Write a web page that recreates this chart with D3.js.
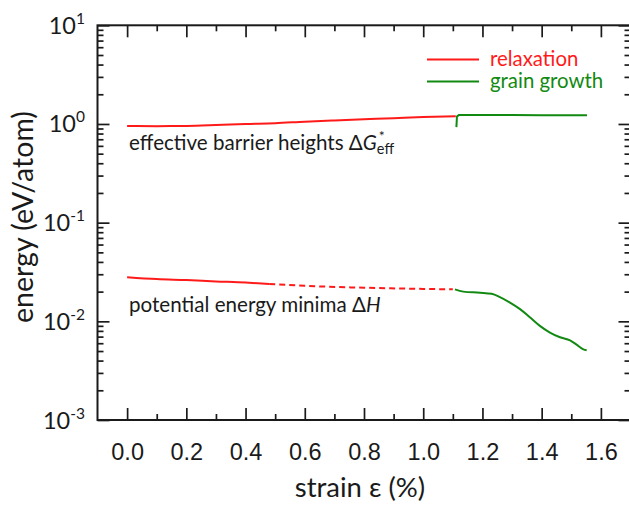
<!DOCTYPE html>
<html>
<head>
<meta charset="utf-8">
<script src="https://cdn.jsdelivr.net/npm/d3@7"></script>
<style>
  body { margin: 0; background: #fff; }
  svg { display: block; font-family: Lato, "Open Sans", sans-serif; }
  .tickLabel { font-size: 23.5px; fill: #1a1a1a; }
  .axisTitle { font-size: 27.5px; fill: #1a1a1a; }
  .note { font-size: 20.6px; fill: #1a1a1a; }
  .keyText { font-size: 20.4px; }
</style>
</head>
<body>
<div id="graphicContainer"></div>
<script>
// strain (%) , energy (eV/atom)
var barrierRelax = [[0.0, 0.955], [0.1, 0.95], [0.2, 0.955], [0.3, 0.975], [0.4, 1.0], [0.5, 1.02],
  [0.6, 1.055], [0.7, 1.085], [0.8, 1.115], [0.9, 1.145], [1.0, 1.175], [1.11, 1.2]]
var barrierGrowth = [[1.112, 0.93], [1.114, 1.19], [1.12, 1.23], [1.2, 1.235], [1.3, 1.23],
  [1.4, 1.225], [1.5, 1.225], [1.553, 1.225]]
var minimaRelax = [[0.0, 0.028], [0.1, 0.0268], [0.2, 0.0262], [0.3, 0.0254], [0.4, 0.0247], [0.48, 0.0239]]
var minimaRelaxDashed = [[0.48, 0.0239], [0.6, 0.0229], [0.8, 0.0219], [1.0, 0.0213], [1.1, 0.0211]]
var minimaGrowth = [[1.107, 0.0211], [1.135, 0.0200], [1.192, 0.0195], [1.231, 0.0190], [1.259, 0.0176],
  [1.293, 0.0155], [1.327, 0.0133], [1.36, 0.0110], [1.394, 0.0090], [1.428, 0.0077], [1.462, 0.0069],
  [1.496, 0.0064], [1.518, 0.0058], [1.541, 0.0052], [1.552, 0.0051]]

var xMajor = [0.0, 0.2, 0.4, 0.6, 0.8, 1.0, 1.2, 1.4, 1.6]
var xMinor = [0.1, 0.3, 0.5, 0.7, 0.9, 1.1, 1.3, 1.5]
var yDecades = [1e-3, 1e-2, 1e-1, 1e0, 1e1]
var yExponents = ["-3", "-2", "-1", "0", "1"]

var legendKeys = ["relaxation", "grain growth"]
var red = "#ff1a1a"
var green = "#128a12"

var width = 629, height = 507
var plot = { left: 97.5, right: 630.5, top: 25.3, bottom: 420 }

var svg = d3.select("#graphicContainer").append("svg")
  .attr("width", width)
  .attr("height", height)

var x = d3.scaleLinear().domain([-0.1, 1.7]).range([plot.left, plot.right])
var y = d3.scaleLog().domain([1e-3, 1e1]).range([plot.bottom, plot.top])

var yMinor = []
yDecades.slice(0, -1).forEach(function (d) {
  for (var k = 2; k < 10; k++) yMinor.push(d * k)
})

function styleAxis(g) {
  g.select(".domain").remove()
  g.selectAll(".tick line").attr("stroke", "#1a1a1a").attr("stroke-width", 1.7)
}

// bottom
svg.append("g").attr("transform", "translate(0," + plot.bottom + ")")
  .call(d3.axisBottom(x).tickValues(xMajor).tickSize(-12).tickPadding(23).tickFormat(d3.format(".1f")))
  .call(styleAxis)
  .call(g => g.selectAll("text").attr("class", "tickLabel").attr("font-size", null).attr("font-family", null))
svg.append("g").attr("transform", "translate(0," + plot.bottom + ")")
  .call(d3.axisBottom(x).tickValues(xMinor).tickSize(-6).tickFormat(""))
  .call(styleAxis)
// top
svg.append("g").attr("transform", "translate(0," + plot.top + ")")
  .call(d3.axisTop(x).tickValues(xMajor).tickSize(-12).tickFormat(""))
  .call(styleAxis)
svg.append("g").attr("transform", "translate(0," + plot.top + ")")
  .call(d3.axisTop(x).tickValues(xMinor).tickSize(-6).tickFormat(""))
  .call(styleAxis)
// left
svg.append("g").attr("transform", "translate(" + plot.left + ",0)")
  .call(d3.axisLeft(y).tickValues(yDecades).tickSize(-12).tickFormat(""))
  .call(styleAxis)
svg.append("g").attr("transform", "translate(" + plot.left + ",0)")
  .call(d3.axisLeft(y).tickValues(yMinor).tickSize(-6).tickFormat(""))
  .call(styleAxis)
// right
svg.append("g").attr("transform", "translate(" + plot.right + ",0)")
  .call(d3.axisRight(y).tickValues(yDecades).tickSize(-12).tickFormat(""))
  .call(styleAxis)
svg.append("g").attr("transform", "translate(" + plot.right + ",0)")
  .call(d3.axisRight(y).tickValues(yMinor).tickSize(-6).tickFormat(""))
  .call(styleAxis)

svg.append("rect")
  .attr("x", plot.left).attr("y", plot.top)
  .attr("width", plot.right - plot.left).attr("height", plot.bottom - plot.top)
  .attr("fill", "none").attr("stroke", "#1a1a1a").attr("stroke-width", 2)

// y tick labels 10^n
yDecades.forEach(function (d, i) {
  var t = svg.append("text").attr("class", "tickLabel")
    .attr("x", 85).attr("y", y(d) + 8.5)
    .attr("text-anchor", "end")
  t.append("tspan").text("10")
  t.append("tspan").attr("dy", -10).attr("font-size", 15.5).text(yExponents[i])
})

svg.append("text").attr("class", "axisTitle")
  .attr("x", 360).attr("y", 497)
  .attr("text-anchor", "middle")
  .text("strain \u03b5 (%)")

svg.append("text").attr("class", "axisTitle")
  .attr("transform", "translate(33,217) rotate(-90)")
  .attr("text-anchor", "middle")
  .style("font-size", "28.5px")
  .text("energy (eV/atom)")

var line = d3.line().x(d => x(d[0])).y(d => y(d[1]))
var smooth = d3.line().curve(d3.curveMonotoneX).x(d => x(d[0])).y(d => y(d[1]))

function drawLine(data, colour, gen, dash) {
  svg.append("path")
    .datum(data)
    .attr("d", gen)
    .attr("fill", "none")
    .attr("stroke", colour)
    .attr("stroke-width", 2)
    .attr("stroke-dasharray", dash || null)
}

drawLine(barrierRelax, red, smooth)
drawLine(barrierGrowth, green, line)
drawLine(minimaRelax, red, smooth)
drawLine(minimaRelaxDashed, red, smooth, "6,4")
drawLine(minimaGrowth, green, smooth)

// legend
legendKeys.forEach(function (k, i) {
  var ly = 59.5 + i * 22
  var c = i == 0 ? red : green
  svg.append("line")
    .attr("x1", 427).attr("x2", 479).attr("y1", ly).attr("y2", ly)
    .attr("stroke", c).attr("stroke-width", 2)
  svg.append("text").attr("class", "keyText")
    .attr("x", 490).attr("y", ly + 6)
    .attr("fill", c)
    .text(k)
})

// annotations
var note1 = svg.append("text").attr("class", "note").attr("x", 129).attr("y", 150)
note1.append("tspan").text("effective barrier heights \u0394")
note1.append("tspan").attr("font-style", "italic").text("G")
var star = note1.append("tspan").attr("dy", -9).attr("dx", 2).attr("font-size", 14).text("*")
var starLen = star.node().getComputedTextLength()
note1.append("tspan").attr("dy", 13).attr("dx", -starLen - 2).attr("font-size", 14.5).text("eff")

var note2 = svg.append("text").attr("class", "note").attr("x", 129).attr("y", 312)
note2.append("tspan").text("potential energy minima \u0394")
note2.append("tspan").attr("font-style", "italic").text("H")
</script>
</body>
</html>
